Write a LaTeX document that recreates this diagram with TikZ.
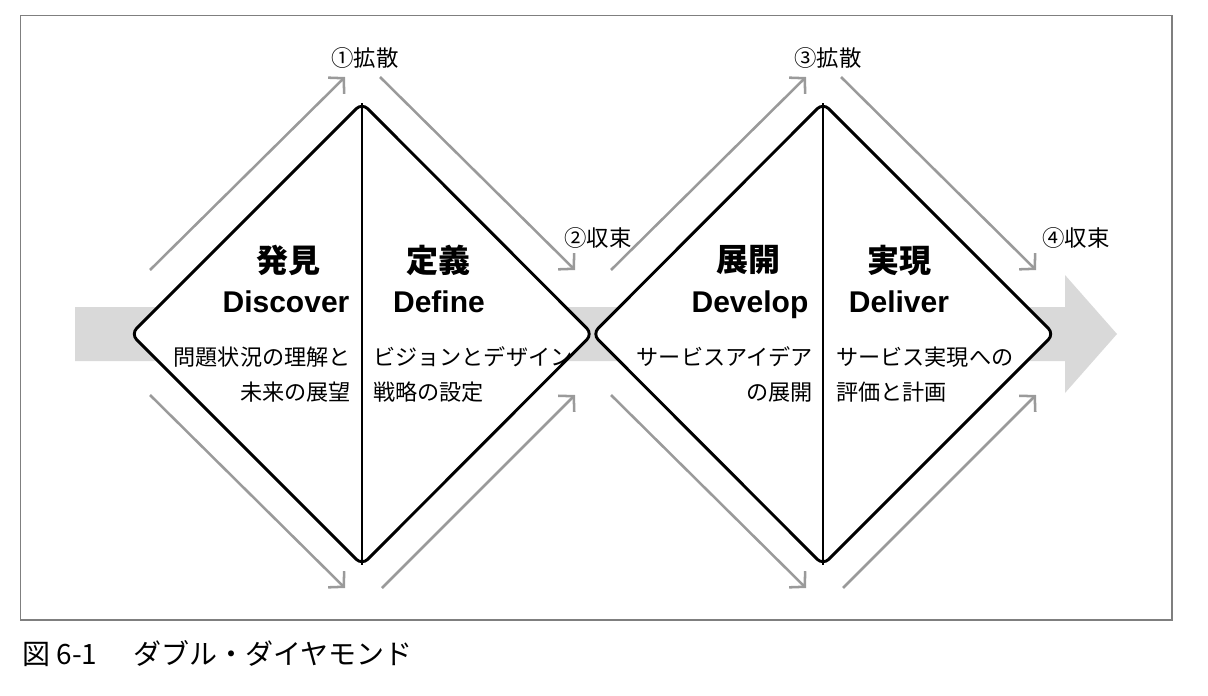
\documentclass[tikz,border=0pt]{standalone}
\usepackage{fontspec}
\setmainfont{Noto Sans CJK JP}
\newfontfamily\latinbold{Liberation Sans}
\usetikzlibrary{arrows.meta}
\definecolor{bandgray}{HTML}{D9D9D9}
\definecolor{arrowgray}{HTML}{9A9A9A}
\definecolor{framegray}{HTML}{7F7F7F}
\tikzset{
  diamondshape/.style={draw=black, fill=white, line width=2.2pt, rounded corners=6pt, line join=round},
  divider/.style={draw=black, line width=2.2pt},
  flowarrow/.style={draw=arrowgray, line width=1.9pt, -{Straight Barb[length=8pt,width=17pt,line width=1.9pt]}},
  jtitle/.style={inner sep=0pt, font=\fontsize{24}{28}\selectfont\bfseries},
  etitle/.style={inner sep=0pt, anchor=base, font=\fontsize{22.5}{26}\selectfont\latinbold\bfseries},
  desc/.style={inner sep=0pt, font=\fontsize{16.6}{26.25}\selectfont},
  phase/.style={inner sep=0pt, font=\fontsize{16.8}{20}\selectfont},
}
\begin{document}
\begin{tikzpicture}[x=0.75pt,y=-0.75pt]
\useasboundingbox (0,0) rectangle (1208,696);
% frame
\draw[framegray, line width=1.2pt] (20.5,15.5) rectangle (1172,620);
% gray band arrow
\fill[bandgray] (75,307) -- (1065,307) -- (1065,275) -- (1117,334) -- (1065,393) -- (1065,361) -- (75,361) -- cycle;
% diamonds
\coordinate (d1t) at (362,103);
\coordinate (d1b) at (362,565);
\coordinate (d2t) at (823,103);
\coordinate (d2b) at (823,565);
\path[diamondshape] (d1t) -- (592.5,334) -- (d1b) -- (131,334) -- cycle;
\path[diamondshape] (d2t) -- (1054,334) -- (d2b) -- (592.5,334) -- cycle;
\draw[divider] (d1t) -- (d1b);
\draw[divider] (d2t) -- (d2b);
% flow arrows
\coordinate (a1s) at (150,270); \coordinate (a1e) at (345,77);
\coordinate (a2s) at (380,77);  \coordinate (a2e) at (575,270);
\coordinate (a3s) at (150,395); \coordinate (a3e) at (345,588);
\coordinate (a4s) at (382,588); \coordinate (a4e) at (575,395);
\coordinate (b1s) at (611,270); \coordinate (b1e) at (806,77);
\coordinate (b2s) at (841,77);  \coordinate (b2e) at (1036,270);
\coordinate (b3s) at (611,395); \coordinate (b3e) at (806,588);
\coordinate (b4s) at (843,588); \coordinate (b4e) at (1036,395);
\draw[flowarrow] (a1s) -- (a1e);
\draw[flowarrow] (a2s) -- (a2e);
\draw[flowarrow] (a3s) -- (a3e);
\draw[flowarrow] (a4s) -- (a4e);
\draw[flowarrow] (b1s) -- (b1e);
\draw[flowarrow] (b2s) -- (b2e);
\draw[flowarrow] (b3s) -- (b3e);
\draw[flowarrow] (b4s) -- (b4e);
% phase labels
\node[phase] (p1) at (365,58) {①拡散};
\node[phase] (p2) at (598,238) {②収束};
\node[phase] (p3) at (828,58) {③拡散};
\node[phase] (p4) at (1076,238) {④収束};
% titles
\node[jtitle] (j1) at (288,260) {発見};
\node[jtitle] (j2) at (438,260) {定義};
\node[jtitle] (j3) at (748,260) {展開};
\node[jtitle] (j4) at (899,260) {実現};
\node[etitle] (e1) at (286,312) {Discover};
\node[etitle] (e2) at (439,312) {Define};
\node[etitle] (e3) at (750,312) {Develop};
\node[etitle] (e4) at (899,312) {Deliver};
% descriptions
\node[desc, anchor=east, align=right] (s1) at (351,374.5) {問題状況の理解と\\未来の展望};
\node[desc, anchor=west, align=left] (s2) at (373,374.5) {ビジョンとデザイン\\戦略の設定};
\node[desc, anchor=east, align=right] (s3) at (813,374.5) {サービスアイデア\\の展開};
\node[desc, anchor=west, align=left] (s4) at (836,374.5) {サービス実現への\\評価と計画};
% caption
\node[inner sep=0pt, anchor=west, font=\fontsize{21}{25}\selectfont] (cap) at (22,654) {図 6-1\hspace{1.3em}ダブル・ダイヤモンド};
\end{tikzpicture}
\end{document}
